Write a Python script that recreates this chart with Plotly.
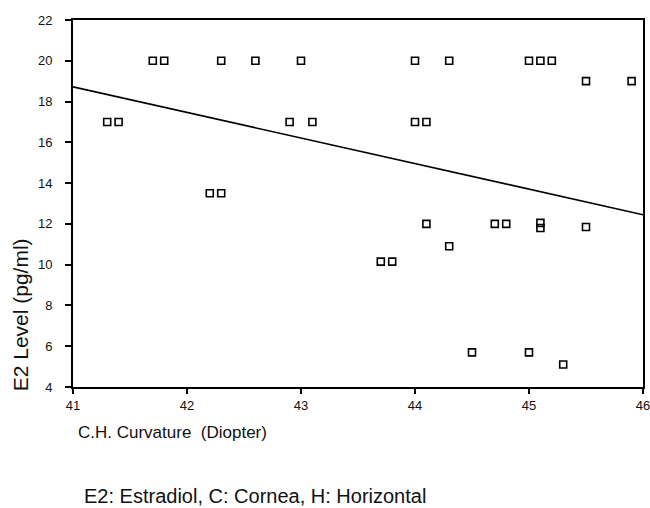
import plotly.graph_objects as go

# Data
curvature = [41.7, 41.8, 42.3, 42.6, 43.0, 44.0, 44.3, 45.0, 45.1, 45.2,
             45.5, 45.9,
             41.3, 41.4, 42.9, 43.1, 44.0, 44.1,
             42.2, 42.3,
             44.1, 44.7, 44.8, 45.1, 45.1, 45.5,
             44.3,
             43.7, 43.8,
             44.5, 45.0,
             45.3]
e2_level = [20, 20, 20, 20, 20, 20, 20, 20, 20, 20,
            19, 19,
            17, 17, 17, 17, 17, 17,
            13.5, 13.5,
            12.0, 12.0, 12.0, 12.05, 11.8, 11.85,
            10.9,
            10.15, 10.15,
            5.7, 5.7,
            5.1]

fit_x = [41, 46]
fit_y = [18.72, 12.45]

x_ticks = [41, 42, 43, 44, 45, 46]
y_ticks = [4, 6, 8, 10, 12, 14, 16, 18, 20, 22]

font_family = "Liberation Sans, Arial, sans-serif"

fig = go.Figure()
fig.add_trace(go.Scatter(
    x=fit_x, y=fit_y, mode="lines",
    line=dict(color="black", width=1.6),
    hoverinfo="skip", showlegend=False))
fig.add_trace(go.Scatter(
    x=curvature, y=e2_level, mode="markers",
    marker=dict(symbol="square-open", size=7, color="black",
                line=dict(color="black", width=1.6)),
    showlegend=False))

fig.update_layout(
    width=650, height=508,
    margin=dict(l=73, r=7, t=20, b=121),
    paper_bgcolor="white", plot_bgcolor="white",
    font=dict(family=font_family, color="#111111", size=13),
    xaxis=dict(range=[41, 46], tickvals=x_ticks, ticktext=[str(v) for v in x_ticks],
               showgrid=False, zeroline=False, showline=True, mirror=True,
               linecolor="black", linewidth=2, ticks="outside", ticklen=5,
               tickwidth=1.5, tickcolor="black", tickfont=dict(size=13),
               ticklabeloverflow="allow", automargin=False),
    yaxis=dict(range=[4, 22], tickvals=y_ticks, ticktext=[str(v) for v in y_ticks],
               showgrid=False, zeroline=False, showline=True, mirror=True,
               linecolor="black", linewidth=2, ticks="outside", ticklen=6,
               tickwidth=1.5, tickcolor="black", tickfont=dict(size=13),
               ticklabelstandoff=10, ticklabeloverflow="allow", automargin=False),
    annotations=[
        dict(text="E2 Level (pg/ml)", xref="paper", yref="paper",
             x=-0.093, y=0.198, xanchor="center", yanchor="middle",
             textangle=-90, showarrow=False, font=dict(size=21)),
        dict(text="C.H. Curvature  (Diopter)", xref="paper", yref="paper",
             x=0.006, y=-0.125, xanchor="left", yanchor="middle",
             showarrow=False, font=dict(size=17)),
        dict(text="E2: Estradiol, C: Cornea, H: Horizontal", xref="paper", yref="paper",
             x=0.016, y=-0.297, xanchor="left", yanchor="middle",
             showarrow=False, font=dict(size=20)),
    ],
)

fig.write_html("out.html", config={"displayModeBar": False},
               post_script="document.body.style.margin='0';document.body.style.overflow='hidden';")
